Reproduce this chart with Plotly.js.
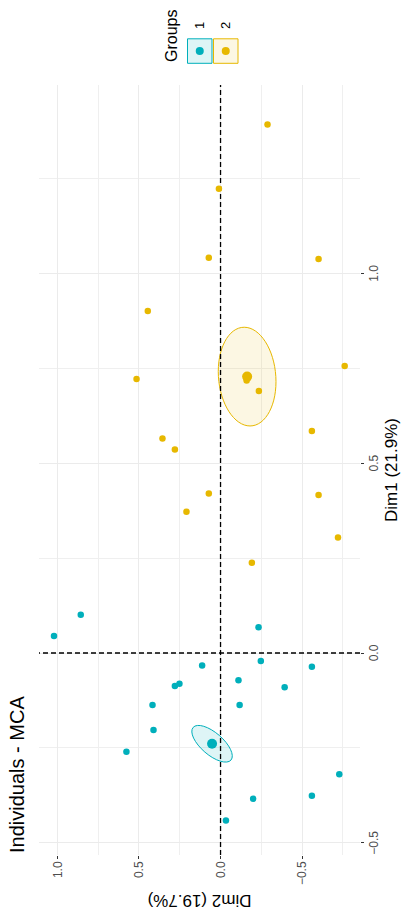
<!DOCTYPE html>
<html><head><meta charset="utf-8">
<script src="https://cdn.plot.ly/plotly-3.0.1.min.js"></script>
<style>
html,body{margin:0;padding:0;overflow:hidden;background:#fff;width:401px;height:910px;}
#wrap{position:absolute;left:0;top:0;width:910px;height:401px;transform-origin:0 0;transform:translate(0,910px) rotate(-90deg);}
</style></head><body><div id="wrap"></div>
<script>
// ---- data ----
const groupNames = ["1", "2"];
const groupColors = ["#00AFBB", "#E7B800"];
const groupFills = ["rgba(0,175,187,0.13)", "rgba(231,184,0,0.11)"];

const g1Dim1 = [0.101, 0.045, 0.068, -0.033, -0.021, -0.036, -0.072, -0.090, -0.087, -0.081, -0.137, -0.137, -0.203, -0.260, -0.319, -0.376, -0.384, -0.441];
const g1Dim2 = [0.857, 1.021, -0.233, 0.113, -0.247, -0.560, -0.110, -0.393, 0.280, 0.252, 0.417, -0.117, 0.411, 0.577, -0.728, -0.560, -0.200, -0.033];

const g2Dim1 = [1.392, 1.223, 1.041, 1.038, 0.901, 0.756, 0.722, 0.718, 0.690, 0.585, 0.565, 0.536, 0.420, 0.416, 0.372, 0.304, 0.238];
const g2Dim2 = [-0.288, 0.010, 0.072, -0.601, 0.446, -0.761, 0.515, -0.160, -0.235, -0.560, 0.356, 0.280, 0.072, -0.601, 0.209, -0.720, -0.192];

// group means (Dim1, Dim2)
const centroidDim1 = [-0.239, 0.728];
const centroidDim2 = [0.052, -0.163];

// confidence ellipses: centre = group mean, two conjugate half-axis vectors [dDim1, dDim2]
const ellipseAxisP = [[0.043, 0.116], [0.130, 0.018]];
const ellipseAxisQ = [[-0.022, 0.044], [0.000, 0.176]];

const tickVals = [-0.5, 0.0, 0.5, 1.0];
const tickText = ["\u22120.5", "0.0", "0.5", "1.0"];
const dim1Range = [-0.532, 1.496];
const dim2Range = [-0.855, 1.113];

// ---- layout geometry ----
const W = 910, H = 401;
const M = {l: 55, r: 85, t: 39, b: 41};
const pw = W - M.l - M.r, ph = H - M.t - M.b;
const PX = u => (u - M.l) / pw;           // pixel -> paper x
const PY = v => (H - M.b - v) / ph;       // pixel -> paper y

function ellipsePath(cx, cy, p, q) {
  const k = 0.5523;
  const pt = (a, b) => [cx + a[0] + b[0], cy + a[1] + b[1]];
  const s = (v, f) => [v[0] * f, v[1] * f];
  const z = [0, 0];
  const P = p, Q = q, nP = s(p, -1), nQ = s(q, -1);
  const seg = [
    [pt(P, s(Q, k)), pt(Q, s(P, k)), pt(Q, z)],
    [pt(Q, s(nP, k)), pt(nP, s(Q, k)), pt(nP, z)],
    [pt(nP, s(nQ, k)), pt(nQ, s(nP, k)), pt(nQ, z)],
    [pt(nQ, s(P, k)), pt(P, s(nQ, k)), pt(P, z)]
  ];
  const st = pt(P, z);
  let d = `M${st[0]},${st[1]}`;
  seg.forEach(c => { d += ` C${c[0][0]},${c[0][1]} ${c[1][0]},${c[1][1]} ${c[2][0]},${c[2][1]}`; });
  return d + ' Z';
}

const dimX = [g1Dim1, g2Dim1];
const dimY = [g1Dim2, g2Dim2];

const traces = [];
for (let i = 0; i < 2; i++) {
  traces.push({
    type: 'scatter', mode: 'markers', name: groupNames[i], showlegend: false,
    x: dimX[i], y: dimY[i],
    marker: {size: 6.5, color: groupColors[i]}
  });
}
for (let i = 0; i < 2; i++) {
  traces.push({
    type: 'scatter', mode: 'markers', showlegend: false, hoverinfo: 'skip',
    x: [centroidDim1[i]], y: [centroidDim2[i]],
    marker: {size: 10, color: groupColors[i]}
  });
}

const shapes = [];
for (let i = 0; i < 2; i++) {
  shapes.push({
    type: 'path', xref: 'x', yref: 'y', layer: 'between',
    path: ellipsePath(centroidDim1[i], centroidDim2[i], ellipseAxisP[i], ellipseAxisQ[i]),
    fillcolor: groupFills[i], line: {color: groupColors[i], width: 1}
  });
}
// dashed reference lines at 0 (data refs on both axes so they sit above the grid)
shapes.push({type: 'line', xref: 'x', yref: 'y', x0: 0, x1: 0, y0: dim2Range[0], y1: dim2Range[1], layer: 'between',
  line: {color: '#000', width: 1.3, dash: '5px,3px'}});
shapes.push({type: 'line', xref: 'x', yref: 'y', x0: dim1Range[0], x1: dim1Range[1], y0: 0, y1: 0, layer: 'between',
  line: {color: '#000', width: 1.3, dash: '5px,3px'}});

// legend (keys drawn as boxes with a dot)
const annotations = [{
  xref: 'paper', yref: 'paper', x: PX(846), y: PY(171), xanchor: 'left', yanchor: 'middle',
  text: 'Groups', showarrow: false, font: {size: 16, color: '#000'}
}];
const keyTop = 187.5, keySize = 24.5;
for (let i = 0; i < 2; i++) {
  const v0 = keyTop + i * (keySize + 1.5), v1 = v0 + keySize;
  const u0 = 846.7, u1 = u0 + keySize;
  shapes.push({type: 'rect', xref: 'paper', yref: 'paper', x0: PX(u0), x1: PX(u1), y0: PY(v1), y1: PY(v0),
    fillcolor: groupFills[i], line: {color: groupColors[i], width: 1}});
  const cu = (u0 + u1) / 2, cv = (v0 + v1) / 2, r = 4;
  shapes.push({type: 'circle', xref: 'paper', yref: 'paper', x0: PX(cu - r), x1: PX(cu + r), y0: PY(cv + r), y1: PY(cv - r),
    fillcolor: groupColors[i], line: {width: 0}});
  annotations.push({xref: 'paper', yref: 'paper', x: PX(879), y: PY(cv), xanchor: 'left', yanchor: 'middle',
    text: groupNames[i], showarrow: false, font: {size: 13, color: '#000'}});
}

const axisCommon = {
  tickmode: 'array', tickvals: tickVals, ticktext: tickText,
  ticks: 'outside', ticklen: 3, tickwidth: 1, tickcolor: '#333',
  tickfont: {size: 12, color: '#4D4D4D'},
  showgrid: true, gridcolor: '#EBEBEB', gridwidth: 1,
  minor: {dtick: 0.25, tick0: 0, showgrid: true, gridcolor: '#EFEFEF', gridwidth: 1, ticks: ''},
  zeroline: false, showline: false, automargin: false
};

const layout = {
  width: W, height: H,
  margin: M,
  paper_bgcolor: '#fff', plot_bgcolor: '#fff',
  font: {family: '"Liberation Sans", Arial, sans-serif', color: '#000'},
  showlegend: false,
  title: {text: 'Individuals - MCA', xref: 'container', x: 57 / W, xanchor: 'left',
          yref: 'container', y: 1 - 16.5 / H, yanchor: 'middle', font: {size: 20, color: '#000'}},
  xaxis: Object.assign({}, axisCommon, {range: dim1Range,
    title: {text: 'Dim1 (21.9%)', font: {size: 17, color: '#000'}, standoff: 4}}),
  yaxis: Object.assign({}, axisCommon, {range: dim2Range,
    title: {text: 'Dim2 (19.7%)', font: {size: 17, color: '#000'}, standoff: 8}}),
  shapes: shapes,
  annotations: annotations
};

Plotly.newPlot('wrap', traces, layout, {displayModeBar: false, staticPlot: true});
</script>
</body></html>
